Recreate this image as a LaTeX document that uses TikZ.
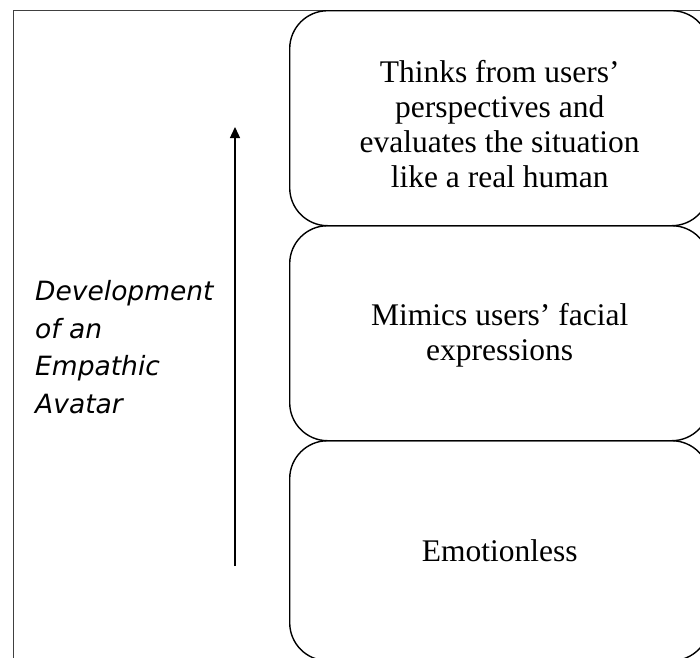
\documentclass[tikz,border=0pt]{standalone}
\usepackage{fontspec}
\setmainfont{Liberation Serif}
\newfontfamily\labelfont{DejaVu Sans}
\usetikzlibrary{arrows.meta}
\begin{document}
\begin{tikzpicture}[x=1pt,y=-1pt,
  stage/.style={draw=black, line width=1.4pt, rounded corners=38pt,
    minimum width=420pt, align=center, inner sep=0pt,
    font=\fontsize{31.5}{35}\selectfont},
  frame/.style={draw=black!75, line width=1pt}]
\useasboundingbox (0,0) rectangle (700,657);
\clip (0,0) rectangle (700,657);
\fill[white] (0,0) rectangle (700,657);
\draw[frame] (13,10) rectangle (760,720);
\node[stage, minimum height=215pt, anchor=north west] (top) at (289,10)
  {\rule{0pt}{33pt}Thinks from users'\\perspectives and\\evaluates the situation\\like a real human};
\node[stage, minimum height=215pt, anchor=north west] (mid) at (289,225)
  {\rule{0pt}{27pt}Mimics users' facial\\expressions};
\node[stage, minimum height=220pt, anchor=north west] (low) at (289,440)
  {Emotionless};
\coordinate (arrbot) at (235,566);
\coordinate (arrtop) at (235,127);
\draw[line width=1.4pt, -{Triangle[length=11pt,width=10pt]}] (arrbot) -- (arrtop);
\node[anchor=west, align=left, inner sep=0pt,
  font=\labelfont\itshape\fontsize{26.5}{37.5}\selectfont] (dev) at (35,347)
  {Development\\of an\\Empathic\\Avatar};
\end{tikzpicture}
\end{document}
